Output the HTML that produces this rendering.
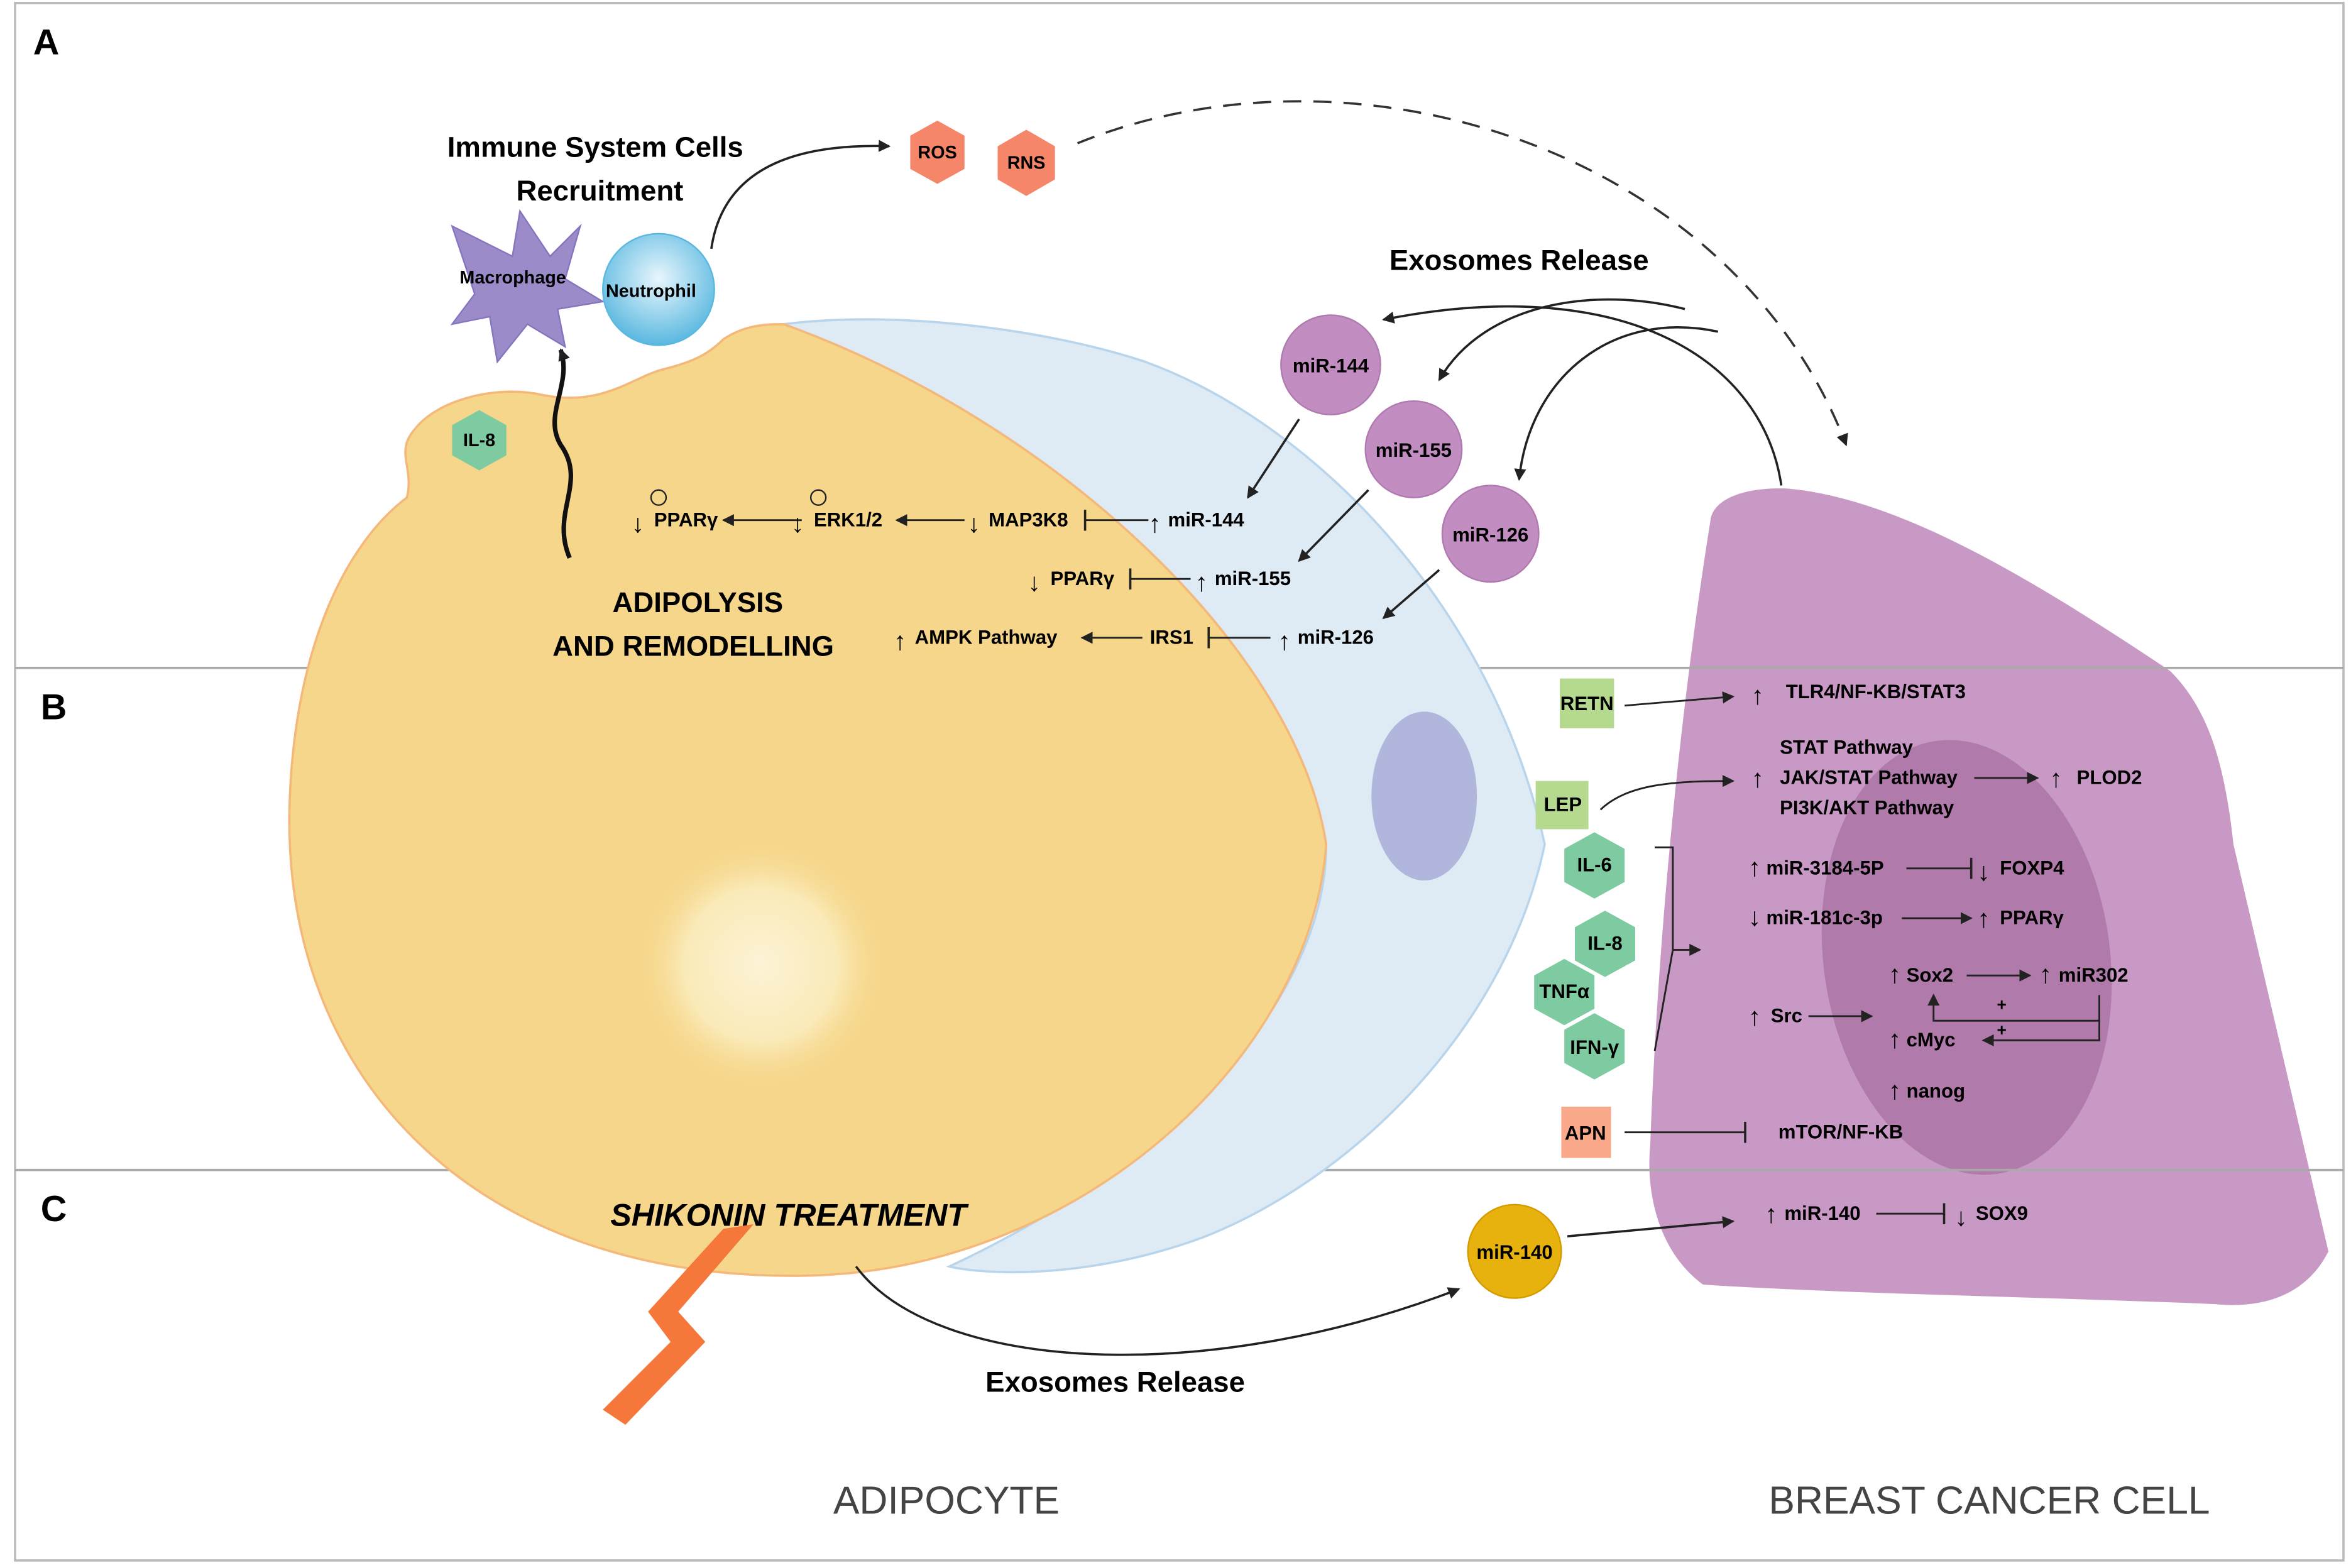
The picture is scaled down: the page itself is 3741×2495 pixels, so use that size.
<!DOCTYPE html>
<html><head><meta charset="utf-8"><style>
html,body{margin:0;padding:0;background:#fff;}
svg{display:block;}
text{font-family:"Liberation Sans",sans-serif;}
</style></head><body>
<svg width="3741" height="2495" viewBox="0 0 1560 1040" preserveAspectRatio="none" xmlns="http://www.w3.org/2000/svg">
<defs>
<marker id="ah" markerWidth="8" markerHeight="8" refX="7" refY="4" orient="auto" markerUnits="userSpaceOnUse"><path d="M0,0 L8,4 L0,8 Z" fill="#222"/></marker>
<marker id="tb" markerWidth="4" markerHeight="14" refX="2" refY="7" orient="auto" markerUnits="userSpaceOnUse"><path d="M2,0 L2,14" stroke="#222" stroke-width="1.5"/></marker>
<radialGradient id="glow" cx="0.5" cy="0.5" r="0.5"><stop offset="0" stop-color="#fdf3d6"/><stop offset="0.6" stop-color="#faeab8"/><stop offset="1" stop-color="#f6d68a" stop-opacity="0"/></radialGradient>
<radialGradient id="neu" cx="0.5" cy="0.4" r="0.6"><stop offset="0" stop-color="#e8f6fd"/><stop offset="1" stop-color="#5ab8e0"/></radialGradient>
</defs>
<rect x="10" y="2" width="1545" height="1033" fill="#fff" stroke="#bbb" stroke-width="1.5"/>

<!-- cancer cell -->
<path d="M1135,345 C1137,330 1160,323 1185,324 C1260,330 1350,385 1440,445 C1465,470 1476,505 1482,560 L1545,830 C1530,860 1500,868 1470,865 C1350,860 1220,858 1130,852 C1100,830 1092,790 1095,760 C1100,620 1115,470 1135,345 Z" fill="#c999c5"/>
<ellipse cx="1305" cy="635" rx="95" ry="145" transform="rotate(-8 1305 635)" fill="#b07aaa"/>

<line x1="10" y1="443" x2="1555" y2="443" stroke="#aaa" stroke-width="1.5"/>
<line x1="10" y1="776" x2="1555" y2="776" stroke="#aaa" stroke-width="1.5"/>
<text x="22" y="36" font-size="24" font-weight="bold">A</text>
<text x="27" y="477" font-size="24" font-weight="bold">B</text>
<text x="27" y="810" font-size="24" font-weight="bold">C</text>

<!-- blue cell -->
<path d="M520,215 C600,205 700,220 760,240 C870,280 990,400 1025,560 C1000,680 900,780 800,820 C720,850 650,845 630,840 C800,760 880,650 880,560 C860,430 700,280 520,215 Z" fill="#deebf5" stroke="#b9d5ec" stroke-width="1.5"/>
<ellipse cx="945" cy="528" rx="35" ry="56" fill="#b1b7dc"/>
<!-- adipocyte -->
<path d="M520,215 C700,280 860,430 880,560 C870,700 720,840 540,846 C320,852 190,720 192,540 C194,430 230,360 270,330 C275,310 262,300 275,285 C290,265 330,255 360,262 C400,270 420,250 440,245 C460,240 470,235 480,225 C495,215 510,215 520,215 Z" fill="#f6d68a" stroke="#f4b97a" stroke-width="1.5"/>
<circle cx="505" cy="640" r="85" fill="url(#glow)"/>

<!-- immune cells -->
<path d="M300,150 L340,170 L345,140 L365,170 L385,150 L375,185 L400,200 L370,205 L375,230 L350,215 L330,240 L325,210 L300,215 L315,195 Z" fill="#9b8bc9" stroke="#8575bf" stroke-width="1"/>
<text x="305" y="188" font-size="12" font-weight="bold">Macrophage</text>
<circle cx="437" cy="192" r="37" fill="url(#neu)" stroke="#5ab8e0"/>
<text x="402" y="197" font-size="12" font-weight="bold">Neutrophil</text>
<text x="395" y="104" font-size="19" font-weight="bold" text-anchor="middle">Immune System Cells</text>
<text x="398" y="133" font-size="19" font-weight="bold" text-anchor="middle">Recruitment</text>
<path d="M472,165 C480,110 530,95 590,97" fill="none" stroke="#222" stroke-width="1.5" marker-end="url(#ah)"/>
<polygon points="622,80 640,90 640,112 622,122 604,112 604,90" fill="#f6866a"/>
<text x="622" y="105" font-size="12" font-weight="bold" text-anchor="middle">ROS</text>
<polygon points="681,86 700,97 700,119 681,130 662,119 662,97" fill="#f6866a"/>
<text x="681" y="112" font-size="12" font-weight="bold" text-anchor="middle">RNS</text>
<path d="M715,95 C900,20 1150,100 1225,295" fill="none" stroke="#333" stroke-width="1.5" stroke-dasharray="12,8" marker-end="url(#ah)"/>
<polygon points="318,272 336,282 336,302 318,312 300,302 300,282" fill="#7ecba1"/>
<text x="318" y="296" font-size="12" font-weight="bold" text-anchor="middle">IL-8</text>
<path d="M378,370 C365,340 390,320 372,295 C360,275 380,255 372,232" fill="none" stroke="#111" stroke-width="3" marker-end="url(#ah)"/>

<text x="463" y="406" font-size="19" font-weight="bold" text-anchor="middle">ADIPOLYSIS</text>
<text x="460" y="435" font-size="19" font-weight="bold" text-anchor="middle">AND REMODELLING</text>

<!-- exosomes -->
<text x="1008" y="179" font-size="19" font-weight="bold" text-anchor="middle">Exosomes Release</text>
<circle cx="883" cy="242" r="33" fill="#c28ec2" stroke="#b07ab0"/>
<text x="883" y="247" font-size="13" font-weight="bold" text-anchor="middle">miR-144</text>
<circle cx="938" cy="298" r="32" fill="#c28ec2" stroke="#b07ab0"/>
<text x="938" y="303" font-size="13" font-weight="bold" text-anchor="middle">miR-155</text>
<circle cx="989" cy="354" r="32" fill="#c28ec2" stroke="#b07ab0"/>
<text x="989" y="359" font-size="13" font-weight="bold" text-anchor="middle">miR-126</text>
<path d="M1182,322 C1170,240 1080,180 918,212" fill="none" stroke="#222" stroke-width="1.5" marker-end="url(#ah)"/>
<path d="M1118,205 C1060,190 985,200 955,252" fill="none" stroke="#222" stroke-width="1.5" marker-end="url(#ah)"/>
<path d="M1140,220 C1070,205 1015,250 1008,318" fill="none" stroke="#222" stroke-width="1.5" marker-end="url(#ah)"/>
<line x1="862" y1="278" x2="828" y2="330" stroke="#222" stroke-width="1.5" marker-end="url(#ah)"/>
<line x1="908" y1="325" x2="862" y2="372" stroke="#222" stroke-width="1.5" marker-end="url(#ah)"/>
<line x1="955" y1="378" x2="918" y2="410" stroke="#222" stroke-width="1.5" marker-end="url(#ah)"/>

<g font-size="13" font-weight="bold">
<text x="434" y="349">PPARγ</text><text x="419" y="353" font-size="17">↓</text>
<circle cx="437" cy="330" r="5" fill="none" stroke="#222"/>
<line x1="532" y1="345" x2="480" y2="345" stroke="#222" stroke-width="1.2" marker-end="url(#ah)"/>
<text x="540" y="349">ERK1/2</text><text x="525" y="353" font-size="17">↓</text>
<circle cx="543" cy="330" r="5" fill="none" stroke="#222"/>
<line x1="640" y1="345" x2="595" y2="345" stroke="#222" stroke-width="1.2" marker-end="url(#ah)"/>
<text x="656" y="349">MAP3K8</text><text x="642" y="353" font-size="17">↓</text>
<line x1="762" y1="345" x2="720" y2="345" stroke="#222" stroke-width="1.2" marker-end="url(#tb)"/>
<text x="775" y="349">miR-144</text><text x="762" y="353" font-size="17">↑</text>
<text x="697" y="388">PPARγ</text><text x="682" y="392" font-size="17">↓</text>
<line x1="790" y1="384" x2="750" y2="384" stroke="#222" stroke-width="1.2" marker-end="url(#tb)"/>
<text x="806" y="388">miR-155</text><text x="793" y="392" font-size="17">↑</text>
<text x="607" y="427">AMPK Pathway</text><text x="593" y="431" font-size="17">↑</text>
<line x1="758" y1="423" x2="718" y2="423" stroke="#222" stroke-width="1.2" marker-end="url(#ah)"/>
<text x="763" y="427">IRS1</text>
<line x1="843" y1="423" x2="802" y2="423" stroke="#222" stroke-width="1.2" marker-end="url(#tb)"/>
<text x="861" y="427">miR-126</text><text x="848" y="431" font-size="17">↑</text>

<!-- section B -->
<rect x="1035" y="450" width="36" height="33" fill="#b4d98f"/>
<text x="1053" y="471" text-anchor="middle">RETN</text>
<line x1="1078" y1="468" x2="1150" y2="462" stroke="#222" stroke-width="1.2" marker-end="url(#ah)"/>
<text x="1162" y="467" font-size="17">↑</text><text x="1185" y="463">TLR4/NF-KB/STAT3</text>
<rect x="1019" y="518" width="35" height="32" fill="#b4d98f"/>
<text x="1037" y="538" text-anchor="middle">LEP</text>
<path d="M1062,537 C1080,520 1110,518 1150,518" fill="none" stroke="#222" stroke-width="1.2" marker-end="url(#ah)"/>
<text x="1162" y="522" font-size="17">↑</text>
<text x="1181" y="500">STAT Pathway</text>
<text x="1181" y="520">JAK/STAT Pathway</text>
<text x="1181" y="540">PI3K/AKT Pathway</text>
<line x1="1310" y1="516" x2="1352" y2="516" stroke="#222" stroke-width="1.2" marker-end="url(#ah)"/>
<text x="1360" y="522" font-size="17">↑</text><text x="1378" y="520">PLOD2</text>
<g fill="#7ecba1">
<polygon points="1058,552 1078,563 1078,585 1058,596 1038,585 1038,563"/>
<polygon points="1065,604 1085,615 1085,637 1065,648 1045,637 1045,615"/>
<polygon points="1038,636 1058,647 1058,669 1038,680 1018,669 1018,647"/>
<polygon points="1058,672 1078,683 1078,705 1058,716 1038,705 1038,683"/>
</g>
<text x="1058" y="578" text-anchor="middle">IL-6</text>
<text x="1065" y="630" text-anchor="middle">IL-8</text>
<text x="1038" y="662" text-anchor="middle">TNFα</text>
<text x="1058" y="699" text-anchor="middle">IFN-γ</text>
<path d="M1098,562 L1110,562 L1110,630 L1098,697" fill="none" stroke="#222" stroke-width="1.2"/>
<line x1="1110" y1="630" x2="1128" y2="630" stroke="#222" stroke-width="1.2" marker-end="url(#ah)"/>
<text x="1160" y="581" font-size="17">↑</text><text x="1172" y="580">miR-3184-5P</text>
<line x1="1265" y1="576" x2="1308" y2="576" stroke="#222" stroke-width="1.2" marker-end="url(#tb)"/>
<text x="1312" y="584" font-size="17">↓</text><text x="1327" y="580">FOXP4</text>
<text x="1160" y="614" font-size="17">↓</text><text x="1172" y="613">miR-181c-3p</text>
<line x1="1262" y1="609" x2="1308" y2="609" stroke="#222" stroke-width="1.2" marker-end="url(#ah)"/>
<text x="1312" y="615" font-size="17">↑</text><text x="1327" y="613">PPARγ</text>
<text x="1253" y="652" font-size="17">↑</text><text x="1265" y="651">Sox2</text>
<line x1="1305" y1="647" x2="1347" y2="647" stroke="#222" stroke-width="1.2" marker-end="url(#ah)"/>
<text x="1353" y="652" font-size="17">↑</text><text x="1366" y="651">miR302</text>
<path d="M1393,660 L1393,677 L1283,677 L1283,660" fill="none" stroke="#222" stroke-width="1.2" marker-end="url(#ah)"/>
<path d="M1393,677 L1393,690 L1316,690" fill="none" stroke="#222" stroke-width="1.2" marker-end="url(#ah)"/>
<text x="1325" y="670" font-size="11">+</text><text x="1325" y="687" font-size="11">+</text>
<text x="1160" y="680" font-size="17">↑</text><text x="1175" y="678">Src</text>
<line x1="1200" y1="674" x2="1242" y2="674" stroke="#222" stroke-width="1.2" marker-end="url(#ah)"/>
<text x="1253" y="695" font-size="17">↑</text><text x="1265" y="694">cMyc</text>
<text x="1253" y="729" font-size="17">↑</text><text x="1265" y="728">nanog</text>
<rect x="1036" y="734" width="33" height="34" fill="#f9a98a"/>
<text x="1052" y="756" text-anchor="middle">APN</text>
<line x1="1078" y1="751" x2="1158" y2="751" stroke="#222" stroke-width="1.2" marker-end="url(#tb)"/>
<text x="1180" y="755">mTOR/NF-KB</text>

<!-- section C -->
<text x="1171" y="811" font-size="17">↑</text><text x="1184" y="809">miR-140</text>
<line x1="1245" y1="805" x2="1290" y2="805" stroke="#222" stroke-width="1.2" marker-end="url(#tb)"/>
<text x="1297" y="813" font-size="17">↓</text><text x="1311" y="809">SOX9</text>
</g>
<text x="405" y="813" font-size="21" font-weight="bold" font-style="italic">SHIKONIN TREATMENT</text>
<polygon points="480,815 500,812 450,870 468,890 415,945 400,935 445,890 430,870" fill="#f5773a"/>
<circle cx="1005" cy="830" r="31" fill="#e8b20e" stroke="#d49a00"/>
<text x="1005" y="835" font-size="13" font-weight="bold" text-anchor="middle">miR-140</text>
<line x1="1040" y1="820" x2="1150" y2="810" stroke="#222" stroke-width="1.5" marker-end="url(#ah)"/>
<path d="M568,840 C620,910 800,920 968,855" fill="none" stroke="#222" stroke-width="1.5" marker-end="url(#ah)"/>
<text x="740" y="923" font-size="19" font-weight="bold" text-anchor="middle">Exosomes Release</text>
<text x="628" y="1004" font-size="26" fill="#444" text-anchor="middle">ADIPOCYTE</text>
<text x="1320" y="1004" font-size="26" fill="#444" text-anchor="middle">BREAST CANCER CELL</text>
</svg>
</body></html>
